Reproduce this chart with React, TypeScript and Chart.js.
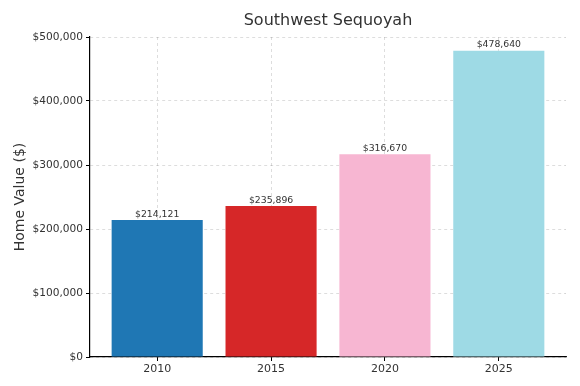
import React, { useEffect, useRef } from "react";
import { Chart, registerables } from "chart.js";

Chart.register(...registerables);

const title = "Southwest Sequoyah";
const categories = ["2010", "2015", "2020", "2025"];
const values = [214121, 235896, 316670, 478640];
const colors = ["#1f77b4", "#d62728", "#f7b6d2", "#9edae5"];
const yTicks = [0, 100000, 200000, 300000, 400000, 500000];
const yTitle = "Home Value ($)";

const fmt = (v: number) => "$" + v.toLocaleString("en-US");

const valueLabels = {
  id: "valueLabels",
  afterDatasetsDraw(chart: any) {
    const ctx = chart.ctx;
    const meta = chart.getDatasetMeta(0);
    ctx.save();
    ctx.font = "9.3px 'DejaVu Sans'";
    ctx.fillStyle = "#333333";
    ctx.textAlign = "center";
    ctx.textBaseline = "bottom";
    meta.data.forEach((bar: any, i: number) => {
      ctx.fillText(fmt(values[i]), bar.x, bar.y - 1);
    });
    ctx.restore();
  },
};

const plotTitle = {
  id: "plotTitle",
  afterDraw(chart: any) {
    const ctx = chart.ctx;
    const a = chart.chartArea;
    ctx.save();
    ctx.font = "16px 'DejaVu Sans'";
    ctx.fillStyle = "#333333";
    ctx.textAlign = "center";
    ctx.textBaseline = "middle";
    ctx.fillText(title, (a.left + a.right) / 2, 21);
    ctx.restore();
  },
};

export default function App() {
  const ref = useRef<HTMLCanvasElement>(null);
  useEffect(() => {
    document.body.style.margin = "0";
    const chart = new Chart(ref.current!, {
      type: "bar",
      data: {
        datasets: [
          {
            data: values.map((v, i) => ({ x: i, y: v })),
            backgroundColor: colors,
            borderWidth: 0,
            categoryPercentage: 1,
            barPercentage: 0.8,
          },
        ],
      },
      options: {
        animation: false,
        responsive: false,
        layout: { padding: { left: 0, right: 14, top: 37, bottom: 0 } },
        plugins: {
          legend: { display: false },
          tooltip: { enabled: false },
          title: { display: false },
        },
        scales: {
          x: {
            type: "linear",
            min: -0.59,
            max: 3.59,
            offset: false,
            z: 1,
            afterBuildTicks: (s: any) => {
              s.ticks = categories.map((_, i) => ({ value: i }));
            },
            afterFit: (s: any) => {
              s.height = 29;
            },
            ticks: {
              callback: (v: any) => categories[v] ?? "",
              color: "#333333",
              font: { family: "'DejaVu Sans'", size: 11 },
              padding: 2,
              maxRotation: 0,
            },
            grid: {
              offset: false,
              color: "rgba(0,0,0,0.17)",
              tickColor: "#000000",
              tickLength: 4,
              lineWidth: 0.8,
              tickWidth: 1,
            },
            border: { display: true, color: "#000000", width: 1.2, dash: [3, 3] },
          },
          y: {
            min: 0,
            max: 500000,
            z: 1,
            afterBuildTicks: (s: any) => {
              s.ticks = yTicks.map((v) => ({ value: v }));
            },
            afterFit: (s: any) => {
              s.width = 90;
            },
            ticks: {
              callback: (v: any) => fmt(Number(v)),
              color: "#333333",
              font: { family: "'DejaVu Sans'", size: 10.6 },
              padding: 3,
            },
            grid: {
              color: "rgba(0,0,0,0.17)",
              tickColor: "#000000",
              tickLength: 4,
              lineWidth: 0.8,
              tickWidth: 1,
            },
            border: { display: true, color: "#000000", width: 1.2, dash: [3, 3] },
            title: {
              display: true,
              text: yTitle,
              color: "#333333",
              font: { family: "'DejaVu Sans'", size: 14 },
              padding: { top: 12, bottom: 0 },
            },
          },
        },
      } as any,
      plugins: [valueLabels, plotTitle],
    });
    return () => chart.destroy();
  }, []);
  return (
    <div style={{ width: 580, height: 386 }}>
      <canvas ref={ref} width={580} height={386} />
    </div>
  );
}
